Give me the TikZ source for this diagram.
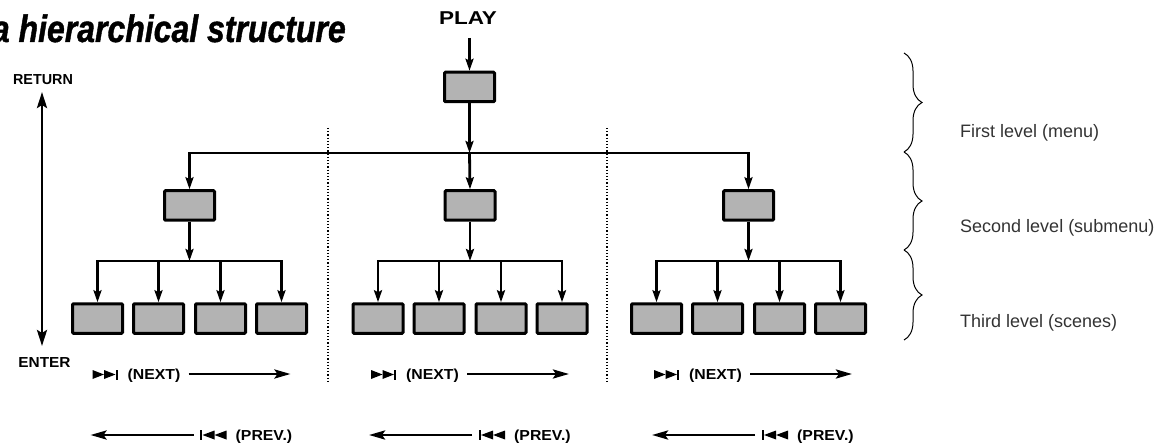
\documentclass[tikz,border=0pt]{standalone}
\usepackage{fontspec}
\usepackage{graphicx}
\setmainfont{Liberation Sans}
\newfontfamily\titlefont[FakeBold=1.2]{Liberation Sans Bold Italic}
\usetikzlibrary{arrows.meta,decorations.pathreplacing}
\definecolor{boxgray}{RGB}{179,179,179}
\tikzset{
  box/.style={draw, line width=3pt, fill=boxgray, minimum width=50pt, minimum height=29.5pt, inner sep=0pt, rounded corners=1pt},
  conn/.style={line width=2.8pt, -{Stealth[length=12pt,width=8pt,inset=2pt]}},
  navarrow/.style={line width=2.8pt, -{Stealth[length=16pt,width=9pt,inset=3pt]}},
  dbl/.style={line width=2.8pt, {Stealth[length=16pt,width=10pt,inset=3pt]}-{Stealth[length=16pt,width=10pt,inset=3pt]}},
  lbl/.style={font=\fontsize{14.5}{14.5}\selectfont\bfseries, inner sep=0pt},
  lvl/.style={font=\fontsize{18}{18}\selectfont, text=black!80, inner sep=0pt, anchor=base west},
  sepline/.style={line width=1.2pt, dotted},
  brc/.style={line width=1pt, decorate, decoration={brace, amplitude=18pt}},
}
\begin{document}
\begin{tikzpicture}[x=1pt, y=-1pt]
\useasboundingbox (0,0) rectangle (1169,446);

% title
\node[anchor=base east, inner sep=0pt, font=\fontsize{38}{38}\selectfont\titlefont] (title) at (346,42) {\scalebox{0.842}[1]{a hierarchical structure}};

% dotted separators
\coordinate (d1t) at (328,128); \coordinate (d1b) at (328,381);
\coordinate (d2t) at (607,128); \coordinate (d2b) at (607,383);
\draw[sepline] (d1t) -- (d1b);
\draw[sepline] (d2t) -- (d2b);

% PLAY and top box
\node[lbl, anchor=base, font=\fontsize{18.6}{18.6}\selectfont\bfseries] (play) at (468,25) {\scalebox{1.21}[1]{PLAY}};
\coordinate (playarr) at (469.5,38);
\node[box] (top) at (469.5,87) {};
\draw[conn] (playarr) -- (top.north);

% second level
\node[box] (s1) at (189.5,205.5) {};
\node[box] (s2) at (470,205.5) {};
\node[box] (s3) at (748.5,205.5) {};
\coordinate (j1) at (469.5,153);
\draw[conn] (top.south) -- (j1);
\draw[conn] (j1) -- (s2.north);
\draw[conn] (j1) -| (s1.north);
\draw[conn] (j1) -| (s3.north);

% third level
\foreach \s/\c in {s1/189.5, s2/470, s3/748.5}{
  \coordinate (\s j) at (\c,261);
  \draw[conn] (\s.south) -- (\s j);
  \foreach \k/\o in {1/-92, 2/-31, 3/31, 4/92}{
    \node[box] (\s t\k) at (\c+\o,318.5) {};
    \draw[conn] (\s j) -| (\s t\k.north);
  }
}

% RETURN / ENTER
\node[lbl, anchor=base] (ret) at (43,85) {\scalebox{0.99}[1]{RETURN}};
\node[lbl, anchor=base] (ent) at (44.5,367.7) {\scalebox{1.06}[1]{ENTER}};
\coordinate (rett) at (42,92);
\coordinate (entt) at (42,346);
\draw[dbl] (rett) -- (entt);

% NEXT / PREV rows
\foreach \n/\b in {A/189.5, B/468, C/751}{
  % NEXT symbol
  \fill (\b-97,370) -- (\b-85.5,374.5) -- (\b-97,379) -- cycle;
  \fill (\b-85.5,370) -- (\b-74,374.5) -- (\b-85.5,379) -- cycle;
  \fill (\b-74,369.5) rectangle (\b-72,379.5);
  \node[lbl, anchor=base west] (next\n) at (\b-62,379.5) {\scalebox{1.09}[1]{(NEXT)}};
  \coordinate (na\n) at (\b-1,374);
  \coordinate (nb\n) at (\b+101,374);
  \draw[navarrow] (na\n) -- (nb\n);
  % PREV
  \coordinate (pa\n) at (\b+4,435);
  \coordinate (pb\n) at (\b-99,435);
  \draw[navarrow] (pa\n) -- (pb\n);
  \fill (\b+10.5,430) rectangle (\b+12.5,440);
  \fill (\b+25,430.5) -- (\b+13,435) -- (\b+25,439.5) -- cycle;
  \fill (\b+37,430.5) -- (\b+25,435) -- (\b+37,439.5) -- cycle;
  \node[lbl, anchor=base west] (prev\n) at (\b+46,440.5) {\scalebox{1.09}[1]{(PREV.)}};
}

% braces and level labels
\coordinate (b0) at (904,53);
\coordinate (b1) at (904,152);
\coordinate (b2) at (904,250);
\coordinate (b3) at (904,340);
\draw[brc] (b0) -- (b1);
\draw[brc] (b1) -- (b2);
\draw[brc] (b2) -- (b3);
\node[lvl] (l1) at (960,138) {First level (menu)};
\node[lvl] (l2) at (960,233) {Second level (submenu)};
\node[lvl] (l3) at (960,327) {Third level (scenes)};
\end{tikzpicture}
\end{document}
